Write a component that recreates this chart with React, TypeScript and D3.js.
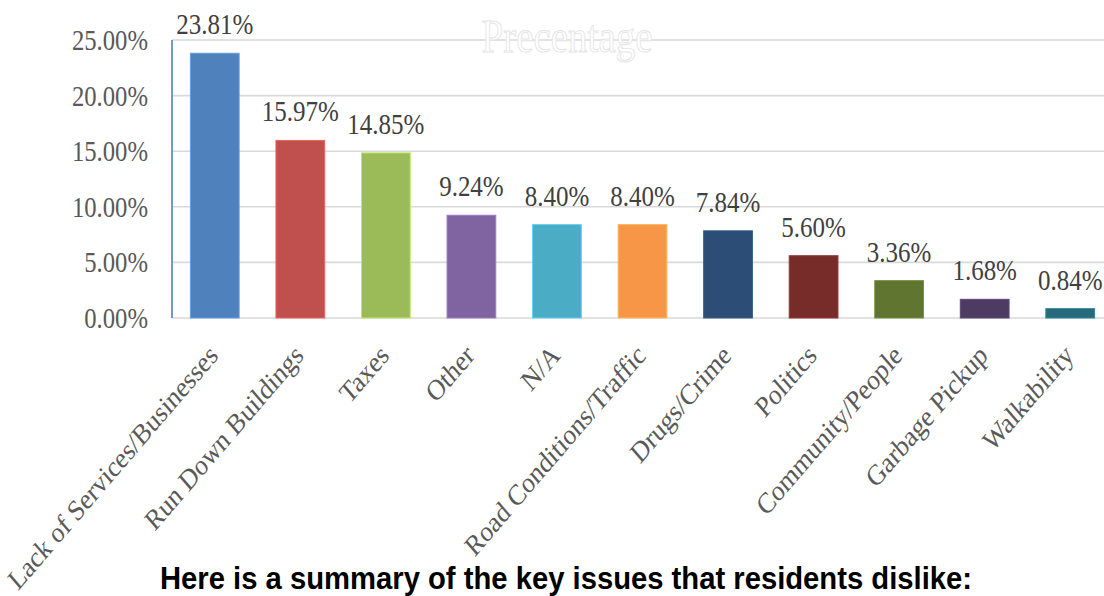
import React from "react";
import * as d3 from "d3";

const categories = [
  "Lack of Services/Businesses",
  "Run Down Buildings",
  "Taxes",
  "Other",
  "N/A",
  "Road Conditions/Traffic",
  "Drugs/Crime",
  "Politics",
  "Community/People",
  "Garbage Pickup",
  "Walkability",
];
const values = [23.81, 15.97, 14.85, 9.24, 8.4, 8.4, 7.84, 5.6, 3.36, 1.68, 0.84];
const colors = [
  "#4F81BD", "#C0504D", "#9BBB59", "#8064A2", "#4BACC6", "#F79646",
  "#2C4D75", "#772C2A", "#5F7530", "#4D3B62", "#276A7C",
];
const yTicks = [0, 5, 10, 15, 20, 25];
const chartTitle = "Precentage";
const caption = "Here is a summary of the key issues that residents dislike:";

const W = 1104;
const H = 596;
const left = 172;
const right = 1113;
const top = 40;
const bottom = 318;
const K = 1.165; // vertical stretch of the reference picture

export default function App() {
  const x = d3.scaleBand<string>().domain(categories).range([left, right]).paddingInner(0.43).paddingOuter(0.215);
  const y = d3.scaleLinear().domain([0, 25]).range([bottom, top]);
  const serif = "'Liberation Serif', 'DejaVu Serif', serif";
  return (
    <svg width={W} height={H} style={{ position: "absolute", left: 0, top: 0, background: "#fff" }}>
      <rect x={0} y={0} width={W} height={H} fill="#fff" />
      {yTicks.map((t) => (
        <g key={t}>
          <line x1={left} x2={W + 20} y1={y(t)} y2={y(t)} stroke="#d9d9d9" strokeWidth={1.6} />
          <text transform={`translate(148,${y(t)}) scale(1,${K})`} dy="0.35em" textAnchor="end"
            fontFamily={serif} fontSize={24.7} fill="#595959">
            {t.toFixed(2)}%
          </text>
        </g>
      ))}
      <line x1={left} x2={left} y1={top} y2={bottom} stroke="#4F81BD" strokeWidth={1.6} />
      <text transform={`translate(567,52) scale(1,${K})`} textAnchor="middle" fontFamily={serif} fontSize={39}
        fill="#fff" stroke="#e4e4e4" strokeWidth={0.8}>
        {chartTitle}
      </text>
      {categories.map((c, i) => {
        const bx = x(c)!;
        const bw = x.bandwidth();
        const cx = bx + bw / 2;
        return (
          <g key={c}>
            <rect x={bx} y={y(values[i])} width={bw} height={bottom - y(values[i])} fill={colors[i]}
              stroke={d3.color(colors[i])!.brighter(0.6).formatHex()} strokeWidth={1} />
            <text transform={`translate(${cx},${y(values[i]) - 19}) scale(1,${K})`} textAnchor="middle"
              fontFamily={serif} fontSize={25} fill="#404040">
              {values[i].toFixed(2)}%
            </text>
            <text transform={`translate(${cx + 4.5},${bottom + 39}) scale(1,${K}) rotate(-45)`} textAnchor="end"
              fontFamily={serif} fontSize={25} fill="#595959">
              {c}
            </text>
          </g>
        );
      })}
      <text transform={`translate(566,589) scale(1,${K})`} textAnchor="middle"
        fontFamily="'Liberation Sans', Arial, sans-serif" fontWeight="bold"
        fontSize={27.5} fill="#000" textLength={812} lengthAdjust="spacingAndGlyphs">
        {caption}
      </text>
    </svg>
  );
}
